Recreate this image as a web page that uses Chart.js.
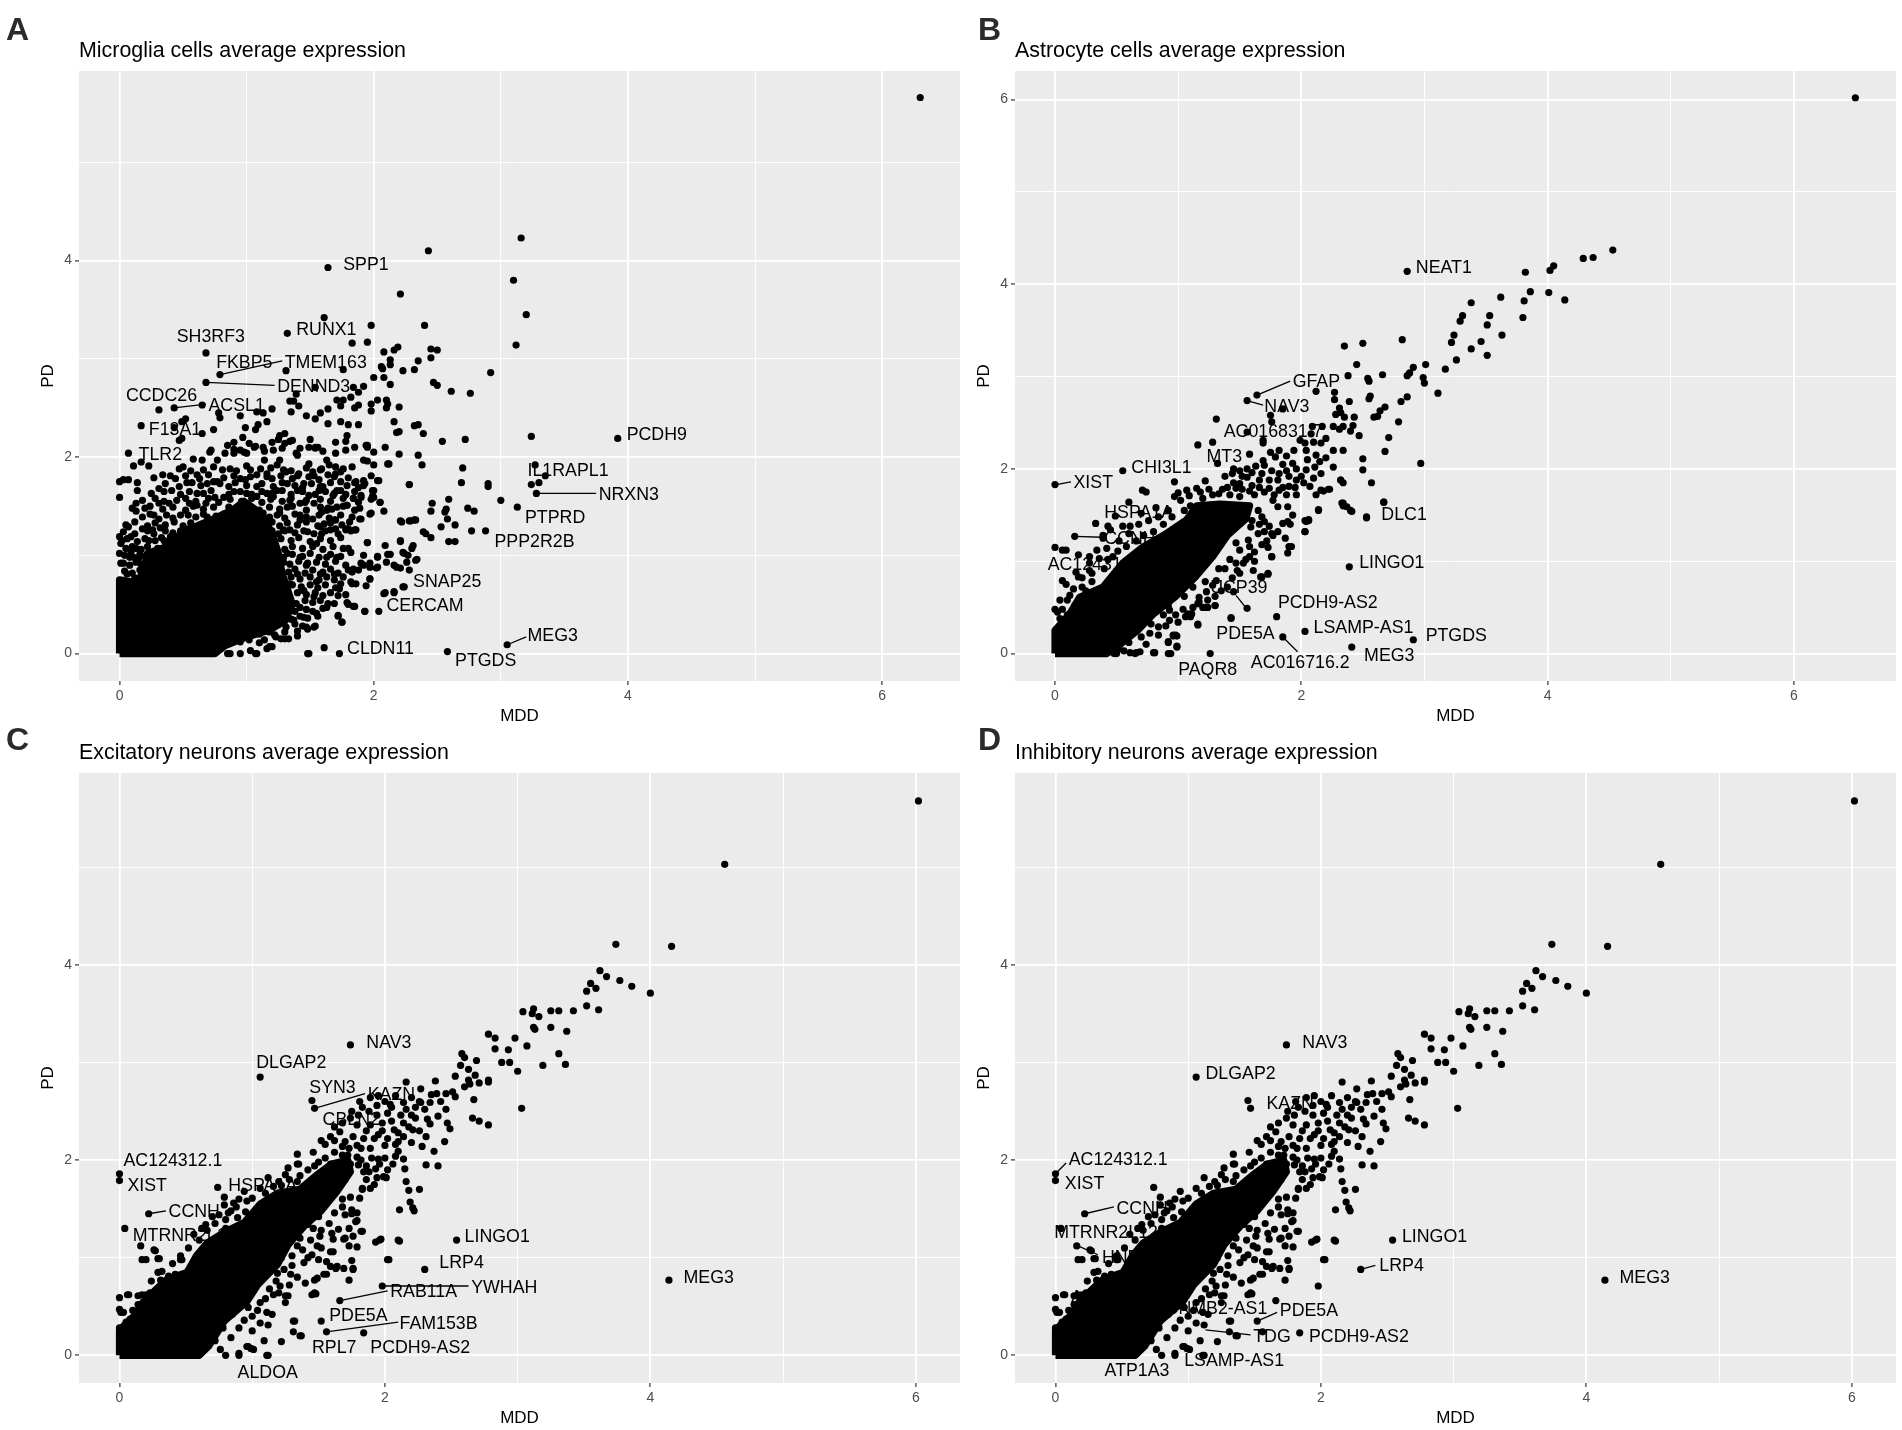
<!DOCTYPE html>
<html>
<head>
<meta charset="utf-8">
<title>Average expression MDD vs PD</title>
<script src="https://cdn.jsdelivr.net/npm/chart.js@4/dist/chart.umd.min.js"></script>
<style>
body { margin: 0; background: #fff; width: 1902px; height: 1430px; position: relative; overflow: hidden; }
canvas { position: absolute; }
.tag { position: absolute; font: bold 32px "Liberation Sans", sans-serif; color: #2b2b2b; line-height: 32px; }
</style>
</head>
<body>
<canvas id="panelA" width="960" height="729" style="left:0;top:0"></canvas>
<canvas id="panelB" width="960" height="729" style="left:936px;top:0"></canvas>
<canvas id="panelC" width="960" height="729" style="left:0;top:702px"></canvas>
<canvas id="panelD" width="960" height="729" style="left:936px;top:702px"></canvas>
<div class="tag" style="left:6px;top:13px">A</div>
<div class="tag" style="left:978px;top:13px">B</div>
<div class="tag" style="left:6px;top:723px">C</div>
<div class="tag" style="left:978px;top:723px">D</div>
<script>
const titles = ["Microglia cells average expression", "Astrocyte cells average expression", "Excitatory neurons average expression", "Inhibitory neurons average expression"];
const xTitle = "MDD";
const yTitle = "PD";
const majorTicks = [0, 2, 4, 6];
const minorTicks = [1, 3, 5];
const yMajorA = [0, 2, 4];
const yMajorB = [0, 2, 4, 6];
const yMajorN = [0, 2, 4];

// readable points, [MDD, PD]
const microgliaPoints = [
[6.30,5.66],[3.16,4.23],[2.43,4.10],[1.64,3.93],[3.10,3.80],[2.21,3.66],[3.20,3.45],[1.61,3.42],[2.40,3.34],[1.98,3.34],[1.32,3.26],[3.12,3.14],[1.83,3.16],[1.95,3.17],[2.19,3.12],[2.16,3.09],[2.08,3.07],[2.45,3.10],[2.50,3.09],[2.45,3.01],[2.35,2.98],[2.13,2.99],[0.68,3.06],[2.13,2.94],[2.06,2.92],[2.07,2.90],[1.76,2.89],[1.31,2.88],[2.23,2.88],[2.32,2.89],[2.92,2.86],[0.79,2.84],[2.00,2.81],[2.08,2.81],[0.68,2.76],[2.47,2.76],[2.50,2.73],[2.13,2.74],[1.92,2.72],[1.84,2.71],[1.54,2.71],[1.88,2.66],[2.61,2.67],[2.76,2.65],[1.39,2.64],[1.37,2.57],[1.34,2.57],[1.41,2.52],[1.71,2.58],[1.76,2.58],[1.82,2.61],[1.88,2.53],[1.98,2.54],[2.03,2.58],[2.10,2.58],[2.11,2.54],[2.20,2.51],[2.10,2.50],[1.98,2.47],[1.85,2.50],[1.74,2.52],[1.64,2.49],[1.58,2.45],[1.47,2.42],[1.54,2.39],[1.35,2.46],[1.08,2.46],[1.20,2.49],[1.13,2.45],[0.95,2.42],[0.78,2.45],[0.79,2.40],[0.43,2.50],[0.31,2.48],[0.65,2.53],[0.52,2.39],[0.49,2.36],[0.17,2.32],[0.43,2.30],[0.47,2.17],[0.49,2.19],[0.74,2.28],[0.65,2.24],[0.99,2.30],[1.09,2.33],[1.16,2.36],[1.07,2.28],[1.64,2.34],[1.74,2.36],[1.80,2.33],[1.88,2.33],[2.16,2.36],[2.32,2.32],[2.35,2.33],[2.39,2.24],[2.18,2.25],[2.20,2.26],[2.54,2.16],[2.72,2.18],[3.24,2.21],[3.92,2.19],
[2.09,2.10],[1.95,2.12],[2.20,2.03],[2.35,2.02],[2.38,1.92],[2.11,1.93],[2.70,1.89],[3.27,1.92],[3.35,1.81],[3.30,1.74],[3.24,1.72],[2.90,1.73],[2.90,1.70],[2.69,1.74],[2.28,1.72],[2.03,1.76],[3.28,1.63],[3.00,1.56],[3.13,1.49],[2.74,1.48],[2.79,1.45],[2.46,1.53],[2.59,1.57],[2.57,1.47],[2.56,1.44],[2.45,1.45],[2.58,1.37],[2.64,1.31],[2.53,1.29],[2.21,1.35],[2.28,1.35],[2.32,1.36],[2.77,1.25],[2.88,1.25],[2.39,1.24],[2.41,1.22],[2.45,1.18],[2.59,1.14],[2.64,1.14],[2.31,1.10],[2.30,1.07],[2.21,1.14],[2.09,1.10],[1.95,1.13],[2.23,1.03],[2.11,1.01],[2.03,0.99],[2.27,1.00],[2.33,0.95],[2.16,0.90],[2.21,0.87],[2.28,0.85],[1.97,0.92],[1.92,0.90],[2.02,0.87],[1.88,0.85],[1.83,0.83],[2.23,0.68],[2.09,0.62],[2.16,0.63],[2.04,0.43],[1.93,0.43],[1.97,0.76],[1.83,0.71],[1.73,0.66],[3.05,0.09],[2.58,0.02],[1.73,0],[1.61,0.06],[1.48,0],[1.75,0.32],[1.72,0.38],[1.80,0.50],[1.85,0.48],[1.54,0.28],[1.47,0.27],[1.40,0.18],[1.30,0.15],[1.18,0.07],[1.07,0],[0.95,0],[0.85,0],[0.87,0],
[0.07,2.04],[0.11,1.91],[0.17,1.95],[0.23,1.91],[0.58,1.98],[0.65,1.97],[0.71,2.05],[0.77,1.97],[0.83,2.04],[0.90,2.04],[0.98,2.05],[1.07,2.11],[1.13,2.10],[1.21,2.07],[1.28,2.09],[1.40,2.02],[1.49,2.10],[1.54,2.09],[1.63,1.97],[1.70,2.04],[1.78,2.07],[1.95,2.10],[2.12,1.93],[1.92,1.97],[1.83,1.90],[2.00,1.92],
[0,1.75],[0.03,1.77],[0.07,1.77],[0.14,1.74],[0.14,1.66],[0,1.59],[0.27,1.79],[0.34,1.82],[0.40,1.81],[0.47,1.88],[0.56,1.86],[0.61,1.82],[0.53,1.74],[0.31,1.68],[0.41,1.66],[0.74,1.75],[0.69,1.73],[0.77,1.75],[0.81,1.87],[0.87,1.88],[0.95,1.78],[1.03,1.80],[1.11,1.88],[1.16,1.83],[1.24,1.92],[1.31,1.85],[1.40,1.81],[1.45,1.73],[1.53,1.81],[1.59,1.88],[1.69,1.80],[1.74,1.75],[1.86,1.75],[1.92,1.76],[2.04,1.76],[2.28,1.72],[2.00,1.66],[2.00,1.59],[2.05,1.54],[2.08,1.45],[1.97,1.42],[1.90,1.37],[2.22,1.34],[2.29,1.35],[2.33,1.36],[1.90,1.59],[1.84,1.58],[1.93,1.73],[1.69,1.63],[1.74,1.66],[1.57,1.66],[1.49,1.61],[1.40,1.66],[1.32,1.73],[1.24,1.66],[1.16,1.63],[1.08,1.70],[1.00,1.63],[0.90,1.65],[0.82,1.59],[0.75,1.59],[0.61,1.63],[0.55,1.53],[0.45,1.56],[0.39,1.53],[0.31,1.53],[0.13,1.53],[0.20,1.48],[0.13,1.45],[0.27,1.41],[0.31,1.37],[0.37,1.41],[0.48,1.41],[0.61,1.51],[0.68,1.53],[0.74,1.49],[0.82,1.42],[0.69,1.39],[1.32,1.49],[1.42,1.53],[1.53,1.53],[1.63,1.46],[1.71,1.49],[1.79,1.51],[1.42,1.41],[1.52,1.37],[1.61,1.32],[1.69,1.36],[1.70,1.27],[1.80,1.27],[1.86,1.26],[1.78,1.26],[1.59,1.22],[1.66,1.26],[1.34,1.26],[1.48,1.24],[1.55,1.12],[1.63,0.98],[1.71,0.98],[1.80,1.07],[1.82,1.03],[1.95,1.13],[2.21,1.15],[1.92,1.00],[2.03,0.98],[2.13,1.01],[2.24,1.02],[2.26,0.93],[2.34,0.96],[1.84,0.86],[1.90,0.92],[1.97,0.88],[2.03,0.88],[2.10,0.93],[2.18,0.88],[1.97,0.76],[1.94,0.69],[1.86,0.71],[1.82,0.73],[2.08,0.61],[2.16,0.62],[2.24,0.68],[1.93,0.43],[1.72,0.39],[1.75,0.32],[1.84,0.48],[1.79,0.52],[1.78,0.60],[1.69,0.51],[1.63,0.47],[1.74,0.71],[1.69,0.81],[1.58,0.81],[1.55,0.73],[1.42,0.98],[1.48,0.92],[1.40,0.81],[1.34,0.71],[1.32,1.02],[1.45,0.64],[1.53,0.58],[1.42,0.47],[1.55,0.41],[1.53,0.27],[1.48,0.25],[1.40,0.23],[1.33,0.15],[1.27,0.15],[1.20,0.07],[1.16,0.05],[1.08,0],[1.03,0.03],[1.49,0],[1.23,0.17],[1.37,0.34],[1.45,0.37],[1.32,0.44],[1.24,0.41],
[0,1.19],[0,1.02],[0.01,0.92],[0.07,1.29],[0.09,1.19],[0.13,1.07],[0.11,0.98],[0.15,0.97],[0.18,1.27],[0.23,1.15],[0.32,1.28],[0.40,1.19],[0.01,1.12],[0.06,0.81],[0.09,1.03],[0.26,1.26],[0.35,1.15],
[0.85,2.12],[0.90,2.08],[0.95,2.07],[1.02,2.14],[1.06,2.10],[1.14,2.06],[1.20,2.15],[1.25,2.18],[1.30,2.14],[1.36,2.17],[1.42,2.09],[1.50,2.18],[1.56,2.10],[1.60,2.06],[1.70,2.15],[1.79,2.22],[1.85,2.10],[2.00,2.05],[1.95,1.96],[1.70,1.90],[1.74,1.85],[1.65,1.92],[0.97,2.20],[0.90,2.15],[0.72,2.07],
[1.26,2.22],[1.30,2.24],[1.34,2.16],[1.54,2.10],[1.78,2.16],[1.94,2.12],[1.39,2.04],[1.26,1.97],[1.14,1.97],[1.00,2.04],[1.49,1.93],[1.58,1.87],[1.70,1.83],[1.58,1.70],[1.41,1.83],[1.29,1.87],[1.16,1.80],[1.03,1.87],[1.85,1.74],[1.92,1.71],[1.99,1.66],[1.90,1.61],[1.84,1.58],[1.99,1.60],[2.05,1.54],[1.98,1.43],[1.89,1.48],[1.89,1.37],[1.79,1.51],[1.71,1.66],[1.68,1.61],[1.64,1.48],[1.70,1.36],[1.81,1.34],[1.85,1.26],[1.79,1.27],[1.59,1.44],[1.58,1.29],[1.34,1.56],[1.21,1.60],[1.08,1.60],[1.47,1.56],[1.26,1.43],[1.13,1.43],[1.42,1.36],[1.29,1.26],[1.00,1.29],
[0.50,1.90],[0.66,1.87],[0.74,1.90],[0.92,1.86],[1.00,1.91],[1.19,1.89],[1.35,1.86],[1.47,1.89],[1.52,1.85],[1.76,1.88],[0.44,1.78],[0.52,1.81],[0.63,1.78],[0.70,1.82],[0.82,1.79],[0.90,1.81],[0.99,1.77],[1.08,1.82],[1.20,1.78],[1.27,1.81],[1.36,1.78],[1.49,1.80],[1.57,1.77],[1.64,1.82],[1.80,1.79],[1.98,1.81],[0.36,1.73],[0.47,1.70],[0.57,1.74],[0.64,1.71],[0.79,1.73],[0.86,1.70],[0.91,1.74],[1.00,1.71],[1.12,1.73],[1.21,1.70],[1.28,1.74],[1.38,1.71],[1.44,1.69],[1.51,1.73],[1.60,1.70],[1.66,1.74],[1.79,1.71],[1.88,1.69],[0.25,1.63],[0.35,1.65],[0.48,1.62],[0.55,1.65],[0.66,1.63],[0.72,1.66],[0.86,1.62],[0.95,1.65],[1.04,1.62],[1.12,1.65],[1.20,1.63],[1.28,1.66],[1.35,1.62],[1.44,1.65],[1.54,1.62],[1.62,1.65],[1.78,1.62],[1.85,1.65],
[0.18,1.56],[0.28,1.58],[0.35,1.55],[0.52,1.58],[0.60,1.55],[0.70,1.58],[0.78,1.54],[0.87,1.57],[0.96,1.55],[1.04,1.58],[1.12,1.54],[1.19,1.57],[1.28,1.55],[1.35,1.58],[1.46,1.54],[1.58,1.57],[1.66,1.55],[1.76,1.58],[1.88,1.54],[1.98,1.57],[0.10,1.48],[0.24,1.50],[0.34,1.47],[0.42,1.49],[0.52,1.46],[0.58,1.50],[0.66,1.47],[0.86,1.49],[0.94,1.47],[1.02,1.50],[1.10,1.46],[1.18,1.49],[1.26,1.47],[1.36,1.50],[1.47,1.46],[1.58,1.49],[1.67,1.47],[1.76,1.50],[1.85,1.46],[0.18,1.39],[0.24,1.42],[0.42,1.38],[0.54,1.41],[0.60,1.39],[0.66,1.42],[0.76,1.40],[0.87,1.38],[0.95,1.41],[1.03,1.38],[1.10,1.42],[1.18,1.39],[1.24,1.41],[1.30,1.38],[1.38,1.42],[1.47,1.39],[1.57,1.41],[1.65,1.38],[1.74,1.41],[1.83,1.39],
[0.05,1.31],[0.12,1.34],[0.22,1.30],[0.28,1.33],[0.36,1.31],[0.43,1.34],[0.50,1.30],[0.56,1.33],[0.64,1.31],[0.72,1.34],[0.79,1.30],[0.86,1.33],[1.13,1.31],[1.20,1.34],[1.26,1.30],[1.32,1.33],[1.40,1.31],[1.47,1.34],[1.56,1.30],[1.66,1.33],[1.75,1.31],[0.03,1.24],[0.12,1.22],[0.22,1.25],[0.27,1.22],[0.36,1.25],[0.42,1.23],[0.48,1.25],[1.13,1.23],[1.20,1.25],[1.25,1.22],[1.30,1.25],[1.38,1.23],[1.45,1.25],[1.53,1.22],[1.62,1.25],[1.72,1.22],[1.82,1.25],[0.02,1.15],[0.06,1.17],[0.14,1.14],[0.20,1.17],[0.28,1.15],[0.33,1.18],[0.38,1.14],[1.14,1.17],[1.20,1.14],[1.27,1.17],[1.35,1.15],[1.41,1.18],[1.50,1.14],[1.58,1.17],[1.66,1.15],[1.74,1.18],[0.05,1.07],[0.10,1.09],[0.17,1.06],[0.22,1.09],[0.30,1.07],[0.36,1.09],[1.16,1.07],[1.22,1.09],[1.30,1.06],[1.36,1.09],[1.44,1.07],[1.52,1.09],[1.60,1.06],[1.68,1.09],[1.76,1.07],
[0.04,1.00],[0.08,0.98],[0.16,1.01],[0.20,0.99],[1.17,1.00],[1.24,1.02],[1.29,0.98],[1.36,1.01],[1.44,0.99],[1.50,1.02],[1.57,0.98],[1.66,1.01],[1.74,0.99],[0.03,0.92],[0.08,0.90],[0.13,0.93],[0.17,0.91],[1.15,0.92],[1.22,0.90],[1.29,0.93],[1.34,0.91],[1.41,0.94],[1.47,0.90],[1.55,0.93],[1.62,0.91],[1.70,0.94],[1.78,0.90],[0.04,0.84],[0.10,0.82],[0.16,0.85],[1.13,0.84],[1.20,0.82],[1.27,0.85],[1.33,0.83],[1.38,0.86],[1.46,0.82],[1.52,0.85],[1.60,0.83],[1.66,0.86],[1.72,0.82],[1.80,0.85],[0.12,0.77],[1.14,0.76],[1.20,0.78],[1.28,0.75],[1.35,0.78],[1.42,0.76],[1.50,0.78],[1.57,0.75],[1.63,0.78],[1.69,0.75],[1.76,0.78],[1.15,0.68],[1.22,0.70],[1.28,0.67],[1.36,0.70],[1.43,0.68],[1.50,0.70],[1.56,0.67],[1.62,0.70],[1.70,0.67],[1.20,0.60],[1.27,0.62],[1.33,0.59],[1.40,0.62],[1.47,0.60],[1.54,0.62],[1.60,0.59],[1.66,0.62],[1.72,0.59],[1.26,0.52],[1.32,0.54],[1.39,0.51],[1.46,0.54],[1.52,0.52],[1.58,0.54],[1.64,0.51],[1.27,0.44],[1.33,0.46],[1.38,0.43],[1.47,0.45],[1.52,0.43],[1.60,0.46],[1.24,0.36],[1.30,0.38],[1.35,0.35],[1.42,0.38],[1.48,0.36],[1.56,0.38],[1.18,0.28],[1.25,0.30],[1.31,0.27],[1.38,0.30],[1.44,0.28],[1.10,0.20],[1.18,0.22],[1.22,0.19],[1.30,0.22],[0.95,0.12],[1.02,0.14],[1.10,0.11],[1.14,0.14]
];
// outline of the saturated black mass, points there cannot be told apart
const microgliaCore = [
[0,0],[0,0.75],[0.14,0.72],[0.19,0.85],[0.22,1.02],[0.40,1.10],[0.50,1.25],[0.61,1.30],[0.74,1.37],[0.90,1.47],[0.98,1.55],[1.12,1.42],[1.20,1.22],[1.25,1.02],[1.28,0.81],[1.33,0.62],[1.36,0.50],[1.30,0.33],[1.18,0.24],[0.98,0.16],[0.83,0.08],[0.75,0],[0,0]
];

const astrocytePoints = [
[6.50,6.02],[4.53,4.37],[4.37,4.29],[4.29,4.28],[4.05,4.20],[4.02,4.15],[3.82,4.13],[2.86,4.14],[3.86,3.92],[4.01,3.91],[4.14,3.83],[3.81,3.82],[3.38,3.80],[3.62,3.86],[3.31,3.66],[3.29,3.60],[3.53,3.66],[3.51,3.56],[3.80,3.64],[3.63,3.45],[3.46,3.38],[3.24,3.45],[3.22,3.37],[3.38,3.30],[3.51,3.23],[3.26,3.18],[2.82,3.40],[2.50,3.36],[2.35,3.33],[2.45,3.13],[3.01,3.13],[3.17,3.08],[2.91,3.10],[2.88,3.04],[2.86,3.01],[2.66,3.02],[2.38,3.01],[2.54,2.98],[2.55,2.95],[2.99,2.99],[3.00,2.93],[3.11,2.82],[1.64,2.80],[1.56,2.74],[2.12,2.84],[2.27,2.83],[2.86,2.78],[2.56,2.79],[2.55,2.76],[2.27,2.75],[2.39,2.73],[2.81,2.73],[2.68,2.67],[2.64,2.63],[2.62,2.57],[2.59,2.56],[1.85,2.65],[1.75,2.58],[1.76,2.51],[1.31,2.54],[2.31,2.66],[2.32,2.61],[2.28,2.59],[2.35,2.56],[2.43,2.56],[2.79,2.51],[2.42,2.47],[2.34,2.46],[2.26,2.46],[2.17,2.46],[2.09,2.46],[2.31,2.43],[2.40,2.41],[2.47,2.36],[2.71,2.34],[2.68,2.19],[2.97,2.06],[2.50,2.11],[2.50,1.99],[2.57,1.85],[2.32,1.88],[2.34,1.85],[2.23,1.78],[2.16,1.77],[2.67,1.64],[2.33,1.63],[2.34,1.60],[2.40,1.55],[2.53,1.48],[2.14,1.56],[2.06,1.45],[2.03,1.32],[2.03,1.44],[1.91,1.40],[2.39,0.94],[1.90,1.16],[1.76,1.05],[1.73,0.86],[1.67,0.83],[1.56,0.49],[1.80,0.40],[2.03,0.24],[1.85,0.18],[2.91,0.15],[2.41,0.07],[1.26,0],[1.43,0.39],[1.16,0.31],[1.30,0.52],[1.22,0.50],[1.17,0.56],[1.06,0.40],[1.10,0.40],[0.98,0.20],[0.96,0.19],[0.99,0.08],[0.92,0.12],[0.93,0],[0.80,0.01],[0.66,0.01],[0.61,0.01],[0.48,0],
[0.55,1.98],[0,1.83],[0.97,1.86],[1.22,1.87],[0.71,1.77],[0.74,1.75],[1.07,1.77],[1.15,1.79],[0.97,1.70],[1.02,1.66],[1.36,1.78],[1.16,2.26],[1.28,2.29],[1.32,2.06],[1.58,2.16],[1.69,2.31],[1.69,2.28],[1.56,2.40],[0.60,1.64],[0.82,1.58],[0.49,1.49],[0.70,1.52],[0.33,1.41],[0.43,1.38],[0.45,1.34],[0.55,1.38],[0.61,1.38],[0.16,1.27],[0.39,1.28],[0.39,1.25],[0,1.15],[0.06,1.12],[0.09,1.12],[0.51,1.11],[0.19,1.07],[0.28,1.05],[0.36,1.03],[0.43,1.02],[0.28,0.98],[0.30,0.87],[0.17,0.88],[0.19,0.83],[0.06,0.79],[0.09,0.75],[0.22,0.72],[0.12,0.63],[0.04,0.58],[0,0.48],[0.02,0.45],
[1.45,2.00],[1.50,1.98],[1.56,2.00],[1.38,1.92],[1.56,1.91],[1.63,2.03],[1.69,2.09],[1.70,2.04],[1.79,2.13],[1.82,2.20],[1.88,2.14],[1.93,2.06],[1.99,2.31],[2.03,2.28],[2.04,2.20],[2.10,2.29],[2.20,2.33],[2.26,2.20],[2.34,2.20],[2.15,2.08],[2.11,2.02],[2.04,1.99],[1.96,2.00],[1.82,1.95],[1.81,1.88],[1.74,1.88],[1.66,1.88],[1.50,1.84],[1.47,1.79],[1.96,1.88],[1.90,1.81],[1.96,1.72],[2.07,1.81],[2.12,1.72],[2.18,1.76],[2.22,1.78],[2.32,1.88],[2.34,1.63],[2.37,1.59],[2.41,1.54],[2.53,1.47],[2.67,1.64],[2.14,1.55],[1.93,1.50],[1.89,1.59],[1.77,1.66],[1.81,1.59],[1.85,1.41],[1.89,1.43],[2.04,1.43],[2.06,1.44],[2.03,1.32],[1.87,1.25],[1.81,1.32],[1.77,1.28],[1.70,1.32],[1.92,1.16],[1.89,1.09],[1.76,1.05],[1.73,1.15],[1.58,1.05],[1.58,1.16],[1.57,1.23],[1.59,1.37],[1.70,1.43],[1.61,0.90],[1.73,0.87],[1.68,0.83],[1.50,0.87],[1.47,0.98],[1.53,0.98],[1.43,0.38],[1.30,0.52],[1.24,0.50],[1.20,0.50],[1.16,0.32],[1.16,0.54],[1.11,0.43],[1.00,0.34],[0.93,0.36],[0.92,0.13],[0.96,0.20],[0.99,0.19],[0.99,0.07],[0.92,0],[0.94,0],[0.81,0.01],[0.69,0.02],[0.65,0],[0.52,0.05],[0.50,0],[1.28,0.74],[1.23,0.67],[1.31,0.79],[1.45,0.67],[1.17,0.61],[1.08,0.43],[0.84,0.29],[0.77,0.22],[0.77,0.40],[0.93,0.47],
[1.42,1.72],[1.50,1.70],[1.62,1.72],[1.70,1.75],[1.78,1.72],[1.85,1.80],[1.90,1.92],[2.00,1.92],[2.05,2.10],[2.12,2.15],[1.75,2.18],[1.85,2.05],[1.68,1.95],[1.60,1.82],[1.45,1.85],[1.28,1.72],[1.20,1.68],[1.10,1.60],[1.05,1.55],[0.95,1.48],[0.88,1.40],[0.80,1.32],[0.72,1.28],[0.66,1.22],[0.58,1.16],[0.47,1.05],[0.40,0.92],[0.30,0.78],[0.25,0.68],[0.16,0.52],[0.10,0.42],[1.65,1.55],[1.68,1.48],[1.65,1.30],[1.62,1.10],[1.50,1.12],[1.47,1.20],[1.42,1.02],[1.38,0.92],[1.33,0.92],[1.22,0.78],[1.12,0.72],[1.05,0.62],[0.92,0.52],[0.88,0.42],[0.78,0.32],[0.70,0.18],[0.60,0.12],
[1.00,1.74],[1.09,1.71],[1.18,1.75],[1.25,1.78],[1.33,1.73],[1.40,1.80],[1.52,1.78],[1.58,1.76],[1.66,1.80],[1.74,1.79],[1.82,1.77],[1.88,1.72],[1.95,1.80],[2.02,1.85],[2.10,1.90],[1.44,1.95],[1.52,1.92],[1.60,1.96],[1.76,1.98],[1.88,1.98],[2.16,1.95],[2.26,2.02],[2.20,2.12],[1.94,2.20],[2.08,2.38],[2.16,2.28],[0.68,1.40],[0.76,1.44],[0.84,1.48],[0.92,1.55],[0.60,1.30],[0.52,1.22],[0.42,1.14],[0.34,1.12],[0.28,0.90],[0.22,0.82],[0.15,0.70],[0.10,0.58],[0.06,0.48],[0.04,0.38],[1.60,1.44],[1.66,1.40],[1.72,1.22],[1.68,1.18],[1.62,1.00],[1.55,1.02],[1.48,0.90],[1.44,0.82],[1.40,0.72],[1.35,0.68],[1.30,0.62],[1.24,0.58],[1.12,0.50],[1.04,0.48],[0.98,0.42],[0.90,0.30],[0.84,0.20],[0.74,0.10],[0.56,0.03],[1.74,1.38],[1.76,1.30]
];
const astrocyteCore = [
[0,0],[0,0.25],[0.12,0.43],[0.20,0.61],[0.39,0.72],[0.55,0.98],[0.71,1.15],[0.88,1.28],[1.07,1.45],[1.15,1.60],[1.34,1.62],[1.58,1.60],[1.55,1.46],[1.40,1.28],[1.28,1.05],[1.14,0.83],[0.98,0.62],[0.80,0.43],[0.67,0.25],[0.50,0.07],[0.42,0],[0,0]
];

// panels C and D show the same cloud
const neuronPoints = [
[6.02,5.68],[4.56,5.03],[3.74,4.21],[4.16,4.19],[3.62,3.94],[3.67,3.88],[3.55,3.81],[3.77,3.84],[3.86,3.78],[4.00,3.71],[3.59,3.76],[3.52,3.73],[3.52,3.58],[3.61,3.54],[3.42,3.53],[3.31,3.53],[3.25,3.53],[3.12,3.55],[3.11,3.50],[3.04,3.52],[3.16,3.47],[3.12,3.36],[3.13,3.34],[3.25,3.36],[3.37,3.32],[2.78,3.29],[2.83,3.25],[2.98,3.25],[3.07,3.17],[2.83,3.14],[2.93,3.13],[2.58,3.09],[2.60,3.05],[2.88,3.00],[2.94,3.00],[3.00,2.91],[3.19,2.97],[3.31,3.09],[3.36,2.98],[2.69,3.02],[2.57,2.97],[2.63,2.93],[2.53,2.86],[2.68,2.87],[2.63,2.82],[2.78,2.82],[2.78,2.80],[2.71,2.79],[2.64,2.78],[2.60,2.75],[2.38,2.81],[2.16,2.80],[2.51,2.70],[2.46,2.68],[2.39,2.68],[2.27,2.73],[2.35,2.67],[2.53,2.65],[2.67,2.62],[3.03,2.53],[2.46,2.52],[2.40,2.45],[2.66,2.43],[2.71,2.40],[2.78,2.36],[2.47,2.38],[2.49,2.32],[2.34,2.37],[2.31,2.24],[2.45,2.19],[2.37,2.09],[2.31,1.95],[2.40,1.94],[1.06,2.85],[1.74,3.18],[1.45,2.61],[1.47,2.53],[1.81,2.60],[1.83,2.54],[1.89,2.64],[1.95,2.66],[2.04,2.57],[2.05,2.54],[2.14,2.59],[2.16,2.52],[2.23,2.54],[2.27,2.59],[2.34,2.59],[1.75,2.50],[1.74,2.43],[1.79,2.36],[1.89,2.36],[1.98,2.38],[2.05,2.40],[2.14,2.38],[2.23,2.43],[2.21,2.31],[2.14,2.24],[2.07,2.31],[1.95,2.26],[1.84,2.22],[1.66,2.29],[1.52,2.20],[1.59,2.24],[1.70,2.19],[1.73,2.12],[1.79,2.15],[1.89,2.12],[2.00,2.15],[2.10,2.19],[2.10,2.09],[2.14,2.01],[2.15,1.91],[1.99,1.83],[2.01,1.82],[1.93,1.91],[1.86,1.94],[1.95,2.01],[1.79,2.03],[1.68,2.05],[1.59,1.96],[1.47,1.94],[1.34,2.06],[1.27,1.92],[1.34,1.96],[2.16,1.78],[2.18,1.69],[2.26,1.70],[2.19,1.57],[2.21,1.51],[2.11,1.49],[2.22,1.48],[1.89,1.71],[1.83,1.70],[1.68,1.52],[1.75,1.45],[1.79,1.38],[1.82,1.27],[1.69,1.19],[1.73,1.12],[1.61,1.19],[1.52,1.28],[1.97,1.19],[1.93,1.16],[2.10,1.18],[2.02,0.98],[2.54,1.18],[2.30,0.88],[1.98,0.71],[4.14,0.77],[1.66,0.56],[1.52,0.35],[1.56,0.24],[1.84,0.23],[1.32,0.35],[1.31,0.24],[1.36,0.20],[1.22,0.14],[1.11,0],[0.99,0.07],[0.97,0.09],[0.90,0],[0.80,0],[1.47,0.64],[1.45,0.62],[1.73,0.77],[1.76,0.89],[1.63,0.89],[1.59,0.91],[1.54,0.83],[1.47,0.77],[1.25,0.61],[1.13,0.68],[1.06,0.54],[1.11,0.44],[0.97,0.49],[0.74,1.72],[0.79,1.62],[0.04,1.30],[0.22,1.45],[0,1.86],[0,1.79],[0.16,1.12],[0.26,1.08],[0.17,0.98],[0.29,0.99],[0.46,0.98],[0.56,1.24],[0.29,0.85],[0,0.59],[0.06,0.62],[0.14,0.61],[0,0.47],[0.01,0.44],[0,0.28],[0.20,0.62],
[0.79,1.54],[0.86,1.56],[0.90,1.60],[1.00,1.61],[1.06,1.71],[1.16,1.73],[1.35,1.96],[0.75,1.44],[0.80,1.39],[0.89,1.41],[0.95,1.47],[1.01,1.44],[0.80,1.30],[0.27,1.07],[0.20,0.98],[0.30,0.99],[0.47,0.98],[0.31,0.77],[0.37,0.81],[0.42,0.83],[0.23,0.64],[0.17,0.62],[0.07,0.62],[0.03,0.44],[0.08,0.37],[0.18,0.50],[0.28,0.57],[0.36,0.67],
[1.83,1.71],[1.81,1.61],[1.75,1.49],[1.79,1.46],[1.78,1.37],[1.83,1.27],[1.73,1.30],[1.65,1.29],[1.70,1.20],[1.76,1.22],[1.79,1.11],[1.51,1.22],[1.49,1.12],[1.59,1.06],[1.61,1.06],[1.45,1.03],[1.39,0.95],[1.56,0.96],[1.75,0.97],[1.64,0.91],[1.69,0.89],[1.76,0.88],[1.56,0.83],[1.49,0.79],[1.40,0.74],[1.29,0.83],[1.19,0.84],[1.21,0.71],[1.16,0.62],[1.27,0.61],[1.25,0.54],[1.48,0.63],[1.15,0.42],[1.12,0.31],[1.06,0.33],[1.31,0.35],[1.37,0.20],[1.09,0.15],[1.00,0.25],[0.96,0.09],[1.01,0.06],[0.90,0.02],[1.12,0],[2.03,0.98],[2.11,1.17],[1.96,1.18],
[1.55,2.02],[1.62,2.08],[1.72,2.05],[1.80,1.95],[1.92,1.75],[1.86,1.80],[1.70,1.80],[1.62,1.72],[1.50,1.65],[1.42,1.60],[1.40,1.48],[1.50,1.42],[1.58,1.35],[1.60,1.25],[1.44,1.18],[1.38,1.08],[1.30,1.02],[1.22,1.00],[1.18,0.76],[1.08,0.80],[1.00,0.66],[0.92,0.55],[0.85,0.42],[0.78,0.28],[0.72,0.15],[1.34,1.78],[1.25,1.85],[1.20,1.78],[1.12,1.82],[0.94,1.68],[0.84,1.48],
[1.62,2.20],[1.68,2.14],[1.76,2.24],[1.82,2.12],[1.86,2.30],[1.92,2.22],[1.98,2.30],[2.02,2.22],[2.08,2.16],[2.10,2.28],[2.18,2.34],[2.26,2.30],[2.32,2.42],[2.30,2.52],[2.20,2.46],[2.12,2.46],[2.02,2.48],[1.94,2.46],[1.88,2.50],[1.80,2.46],[1.68,2.38],[1.62,2.34],[1.55,2.16],[1.46,2.08],[1.50,1.98],[1.58,1.90],[1.66,1.96],[1.74,1.96],[1.82,2.00],[1.90,2.02],[2.00,2.02],[2.06,1.96],[1.96,1.96],[1.88,1.88],[1.94,1.82],[1.84,1.88],[2.02,1.90],[2.08,2.04],[2.20,2.18],[2.28,2.14],[2.26,2.60],[2.42,2.60],[2.20,2.64],[2.08,2.66],[2.00,2.60],[1.94,2.56],
[1.42,1.90],[1.36,1.84],[1.28,1.80],[1.22,1.74],[1.10,1.66],[0.96,1.58],[0.88,1.52],[0.82,1.46],[0.72,1.35],[0.66,1.28],[0.60,1.18],[0.52,1.10],[0.46,1.02],[0.40,0.94],[0.32,0.86],[0.24,0.76],[0.14,0.52],[0.10,0.46],[0.05,0.34],[0.65,1.34],[0.70,1.42],[0.62,1.30],[1.68,1.60],[1.74,1.62],[1.70,1.44],[1.62,1.46],[1.56,1.58],[1.50,1.52],[1.46,1.44],[1.42,1.34],[1.52,1.10],[1.46,1.30],[1.36,1.20],[1.34,1.12],[1.42,1.00],[1.50,0.98],[1.30,0.92],[1.24,0.88],[1.34,0.80],[1.28,0.72],[1.20,0.64],[1.10,0.58],[1.04,0.46],[1.00,0.40],[0.94,0.36],[0.90,0.28],[0.84,0.18],[0.76,0.06]
];
const neuronCore = [
[0,0],[0,0.26],[0.11,0.40],[0.18,0.55],[0.28,0.68],[0.36,0.78],[0.51,0.85],[0.58,1.02],[0.66,1.15],[0.79,1.26],[0.94,1.36],[1.06,1.55],[1.19,1.66],[1.36,1.70],[1.48,1.84],[1.60,1.96],[1.72,2.00],[1.74,1.88],[1.64,1.68],[1.52,1.48],[1.39,1.32],[1.27,1.13],[1.19,0.93],[1.04,0.72],[0.96,0.55],[0.79,0.35],[0.67,0.09],[0.60,0],[0,0]
];

// gene labels, [name, MDD at left edge of text, PD at middle of text]
const labelsA = [["SPP1",1.76,3.95],["RUNX1",1.39,3.29],["SH3RF3",0.45,3.22],["FKBP5",0.76,2.96],["TMEM163",1.30,2.96],["DENND3",1.24,2.71],["CCDC26",0.05,2.62],["ACSL1",0.70,2.52],["F13A1",0.23,2.27],["TLR2",0.15,2.02],["PCDH9",3.99,2.22],["IL1RAPL1",3.21,1.86],["NRXN3",3.77,1.61],["PTPRD",3.19,1.38],["PPP2R2B",2.95,1.13],["SNAP25",2.31,0.73],["CERCAM",2.10,0.48],["MEG3",3.21,0.18],["CLDN11",1.79,0.05],["PTGDS",2.64,-0.075]];
const leadersA = [[0.79,2.84,1.28,2.98],[0.68,2.76,1.22,2.73],[0.43,2.50,0.68,2.54],[3.28,1.63,3.75,1.63],[3.05,0.09,3.20,0.17]];
const labelsB = [["NEAT1",2.93,4.17],["GFAP",1.93,2.94],["NAV3",1.70,2.67],["AC016831.7",1.37,2.40],["MT3",1.23,2.13],["CHI3L1",0.62,2.01],["XIST",0.15,1.85],["HSPA1A",0.40,1.52],["DLC1",2.65,1.50],["CCNH",0.40,1.24],["AC124312.1",-0.06,0.96],["LINGO1",2.47,0.98],["UCP39",1.26,0.71],["PCDH9-AS2",1.81,0.55],["LSAMP-AS1",2.10,0.28],["PTGDS",3.01,0.19],["PDE5A",1.31,0.21],["AC016716.2",1.59,-0.10],["MEG3",2.51,-0.03],["PAQR8",1.00,-0.18]];
const leadersB = [[1.64,2.80,1.91,2.95],[1.56,2.74,1.69,2.69],[0.01,1.83,0.13,1.86],[0.16,1.27,0.38,1.26],[1.47,0.63,1.56,0.48],[1.85,0.18,1.97,0.02]];
const labelsC = [["NAV3",1.86,3.20],["DLGAP2",1.03,2.99],["SYN3",1.43,2.74],["KAZN",1.87,2.67],["CBLN2",1.53,2.41],["AC124312.1",0.03,1.99],["XIST",0.06,1.73],["HSPA1A",0.82,1.73],["CCNH",0.37,1.47],["MTRNR2L12",0.10,1.22],["LINGO1",2.60,1.21],["LRP4",2.41,0.94],["MEG3",4.25,0.79],["YWHAH",2.65,0.69],["RAB11A",2.04,0.65],["PDE5A",1.58,0.40],["FAM153B",2.11,0.32],["RPL7",1.45,0.07],["PCDH9-AS2",1.89,0.07],["ALDOA",0.89,-0.18]];
const leadersC = [[1.47,2.53,1.85,2.68],[0.22,1.45,0.35,1.48],[1.98,0.71,2.63,0.71],[1.66,0.56,2.02,0.66],[1.56,0.24,2.10,0.34]];
const labelsD = [["NAV3",1.86,3.20],["DLGAP2",1.13,2.88],["KAZN",1.59,2.57],["AC124312.1",0.10,2.00],["XIST",0.07,1.75],["CCNH",0.46,1.50],["MTRNR2L12",-0.01,1.25],["HNRNPA1",0.35,1.00],["ALDOA",0.115,0.59],["KCNMB2-AS1",0.74,0.47],["PDE5A",1.69,0.45],["TDG",1.49,0.19],["PCDH9-AS2",1.91,0.19],["LSAMP-AS1",0.97,-0.06],["ATP1A3",0.37,-0.16],["LINGO1",2.61,1.21],["LRP4",2.44,0.91],["MEG3",4.25,0.79]];
const leadersD = [[0,1.86,0.08,1.97],[0.22,1.45,0.44,1.52],[0.17,1.12,0.32,1.03],[1.52,0.35,1.67,0.44],[1.13,0.26,1.47,0.21],[2.30,0.88,2.41,0.92]];

const geneLabels = {
    id: 'geneLabels',
    beforeDraw(chart) {
        const a = chart.chartArea, ctx = chart.ctx;
        ctx.save();
        ctx.fillStyle = '#EBEBEB';
        ctx.fillRect(a.left, a.top, a.right - a.left, a.bottom - a.top);
        ctx.restore();
    },
    afterDatasetsDraw(chart, args, opts) {
        const x = chart.scales.x, y = chart.scales.y, ctx = chart.ctx;
        ctx.save();
        ctx.strokeStyle = '#000';
        ctx.lineWidth = 1.3;
        opts.leaders.forEach(l => {
            ctx.beginPath();
            ctx.moveTo(x.getPixelForValue(l[0]), y.getPixelForValue(l[1]));
            ctx.lineTo(x.getPixelForValue(l[2]), y.getPixelForValue(l[3]));
            ctx.stroke();
        });
        ctx.fillStyle = '#000';
        ctx.font = '17.8px "Liberation Sans"';
        ctx.textAlign = 'left';
        ctx.textBaseline = 'middle';
        opts.labels.forEach(l => ctx.fillText(l[0], x.getPixelForValue(l[1]), y.getPixelForValue(l[2])));
        ctx.restore();
    }
};

function axis(min, max, major, title) {
    const horizontal = title === xTitle;
    return {
        type: 'linear',
        min: min,
        max: max,
        afterBuildTicks: s => { s.ticks = major.concat(minorTicks).filter(v => v >= min && v <= max).sort((p, q) => p - q).map(v => ({ value: v })); },
        afterFit: s => { if (horizontal) s.height = 48; else s.width = 79; },
        border: { display: false },
        grid: {
            color: '#fff',
            lineWidth: c => major.includes(c.tick.value) ? 1.8 : 0.9,
            tickColor: c => major.includes(c.tick.value) ? '#333' : 'transparent',
            tickWidth: 1.2,
            tickLength: 4
        },
        ticks: {
            color: '#4D4D4D',
            font: { family: '"Liberation Sans"', size: 14 },
            padding: 3,
            maxRotation: 0,
            autoSkip: false,
            callback: v => major.includes(v) ? String(v) : ''
        },
        title: {
            display: true,
            text: title,
            color: '#000',
            font: { family: '"Liberation Sans"', size: 17 },
            padding: horizontal ? { top: 0, bottom: 2 } : { top: 38, bottom: 0 }
        }
    };
}

function drawPanel(id, title, points, core, labels, leaders, xMin, xMax, yMin, yMax, yMajor) {
    return new Chart(document.getElementById(id), {
        type: 'scatter',
        data: {
            datasets: [
                { data: points.map(p => ({ x: p[0], y: p[1] })), backgroundColor: '#000', borderWidth: 0, pointRadius: 3.6 },
                { data: core.map(p => ({ x: p[0], y: p[1] })), showLine: true, fill: 'shape', tension: 0, backgroundColor: '#000', borderColor: '#000', borderWidth: 7.2, borderJoinStyle: 'round', pointRadius: 0 }
            ]
        },
        options: {
            responsive: false,
            animation: false,
            events: [],
            layout: { padding: 0, autoPadding: false },
            scales: { x: axis(xMin, xMax, majorTicks, xTitle), y: axis(yMin, yMax, yMajor, yTitle) },
            plugins: {
                legend: { display: false },
                tooltip: { enabled: false },
                title: {
                    display: true,
                    text: title,
                    align: 'start',
                    fullSize: false,
                    color: '#000',
                    font: { family: '"Liberation Sans"', size: 21.4, weight: 'normal' },
                    padding: { top: 38, bottom: 7.3 }
                },
                geneLabels: { labels: labels, leaders: leaders }
            }
        },
        plugins: [geneLabels]
    });
}

drawPanel('panelA', titles[0], microgliaPoints, microgliaCore, labelsA, leadersA, -0.319, 6.613, -0.279, 5.93, yMajorA);
drawPanel('panelB', titles[1], astrocytePoints, astrocyteCore, labelsB, leadersB, -0.325, 6.83, -0.297, 6.31, yMajorB);
drawPanel('panelC', titles[2], neuronPoints, neuronCore, labelsC, leadersC, -0.305, 6.333, -0.284, 5.966, yMajorN);
drawPanel('panelD', titles[3], neuronPoints, neuronCore, labelsD, leadersD, -0.305, 6.333, -0.284, 5.966, yMajorN);
</script>
</body>
</html>
